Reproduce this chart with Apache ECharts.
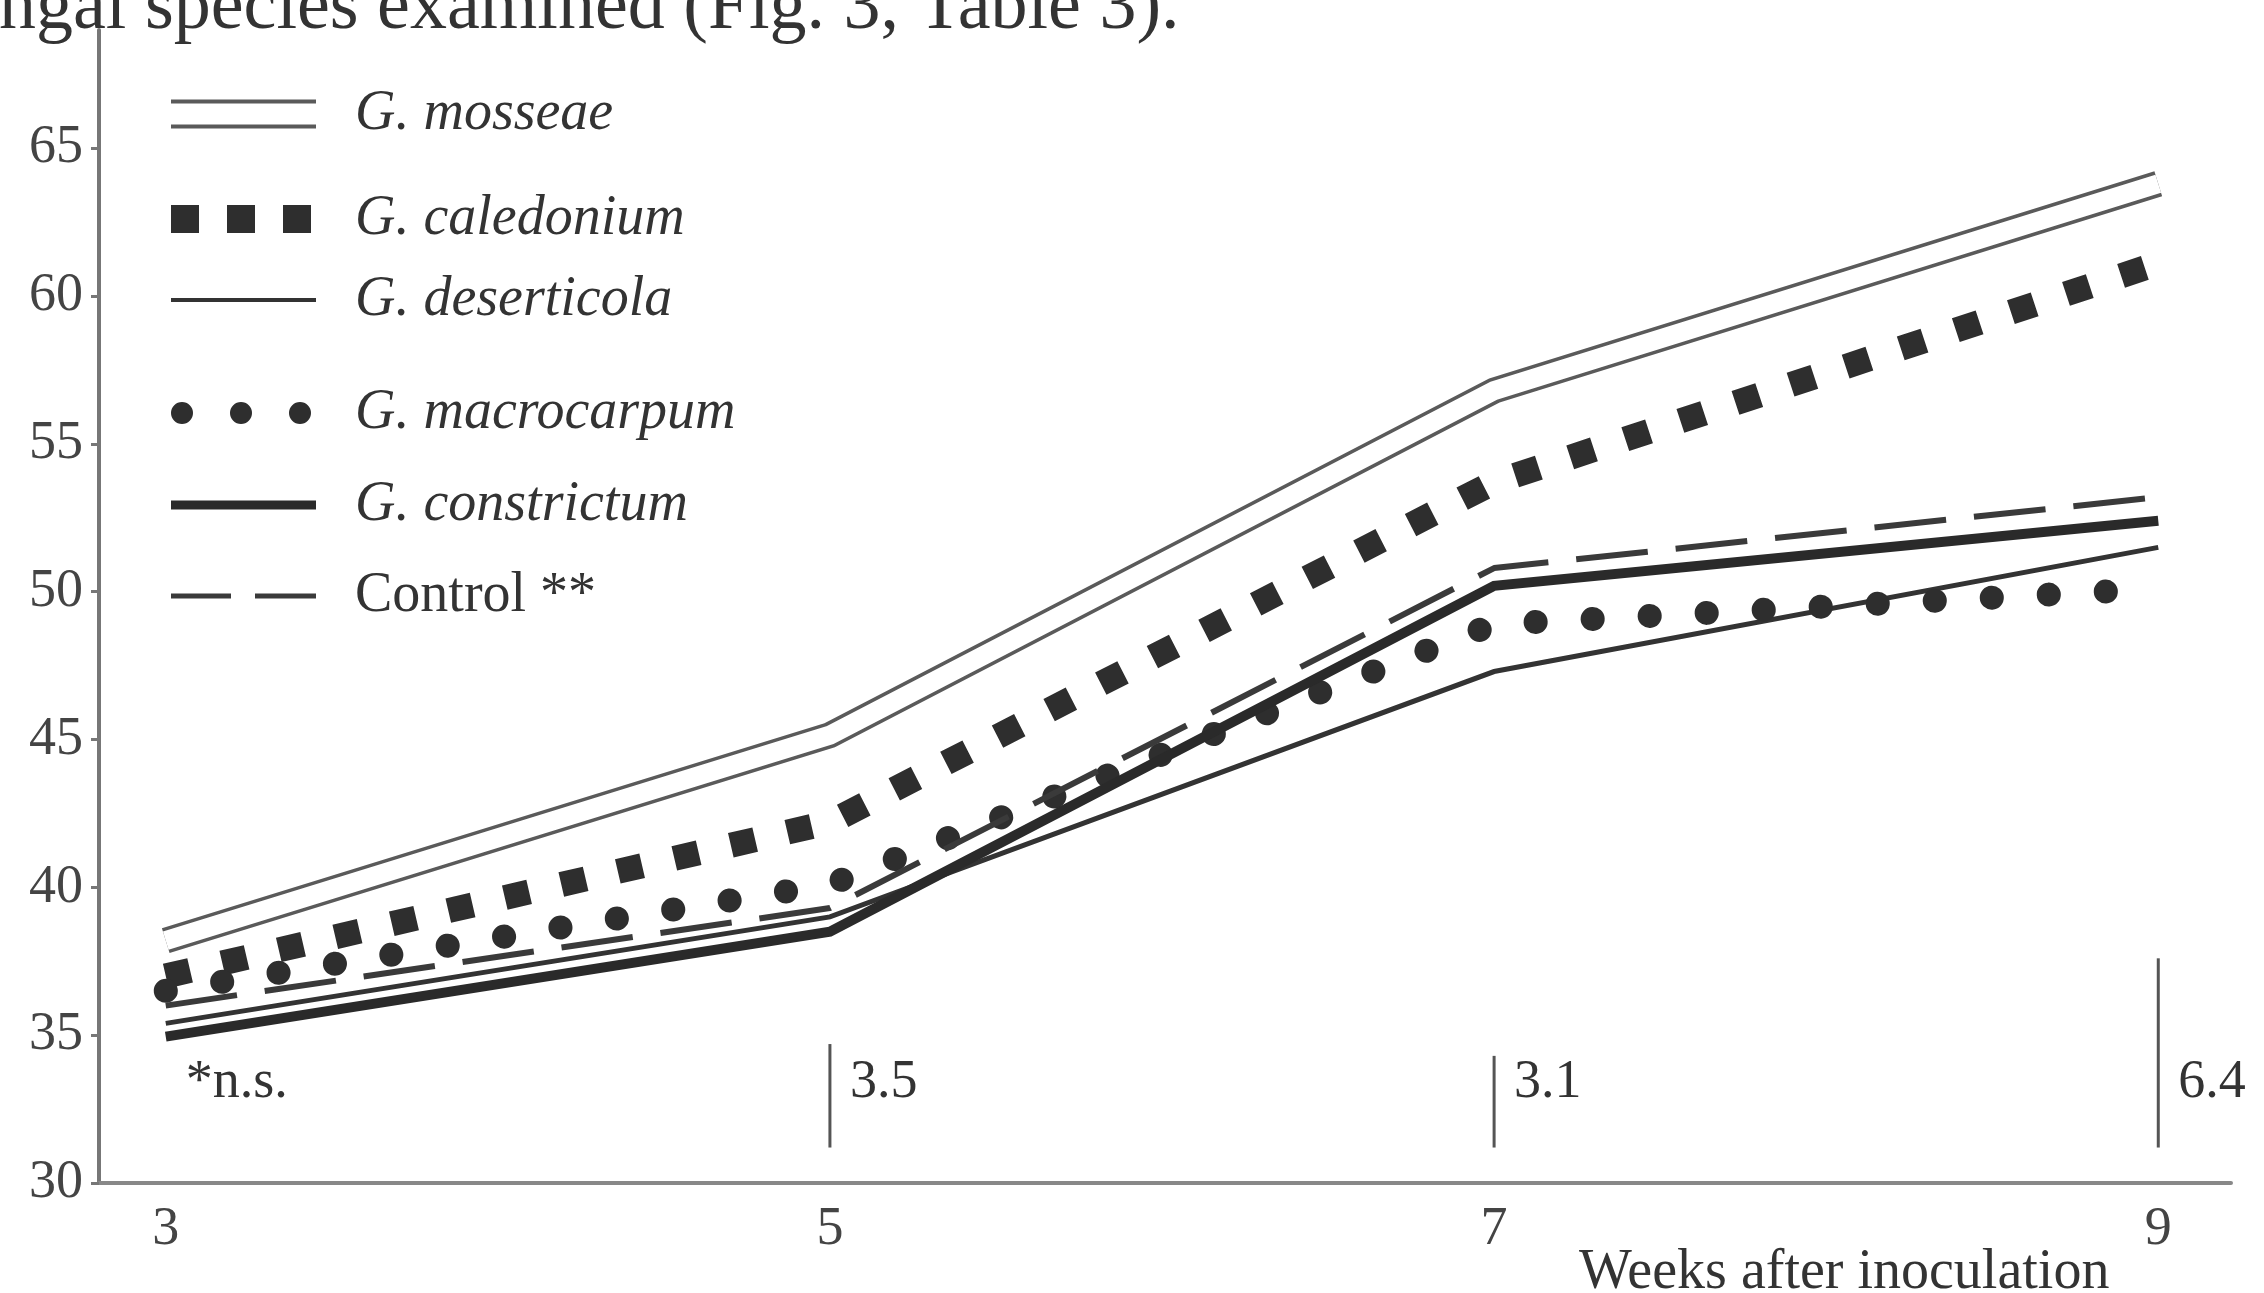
<!DOCTYPE html>
<html>
<head>
<meta charset="utf-8">
<script src="https://cdn.jsdelivr.net/npm/echarts@6/dist/echarts.min.js"></script>
<style>
html,body{margin:0;padding:0;background:#ffffff;}
#c{width:2264px;height:1293px;}
</style>
</head>
<body>
<div id="c"></div>
<script>
// ---- data ----
const weeks = [3, 5, 7, 9];
const mosseae = [38.2, 45.15, 56.8, 63.8];
const caledonium = [37.0, 42.2, 53.7, 61.1];
const deserticola = [35.4, 39.0, 47.3, 51.5];
const macrocarpum = [36.5, 40.1, 48.9, 50.1];
const constrictum = [34.95, 38.5, 50.2, 52.4];
const control = [36.0, 39.3, 50.8, 53.2];
const yTicks = [30, 35, 40, 45, 50, 55, 60, 65];
const xTicks = [3, 5, 7, 9];
const lsdWeeks = [3, 5, 7, 9];
const lsdValues = [0, 3.5, 3.1, 6.4];
const lsdLabels = ['*n.s.', '3.5', '3.1', '6.4'];
const legendNames = ['G. mosseae', 'G. caledonium', 'G. deserticola', 'G. macrocarpum', 'G. constrictum', 'Control **'];
const xAxisName = 'Weeks after inoculation';
const topText = 'ngal species examined (Fig. 3, Table 3).';

// ---- layout / style ----
const lsdBase = 31.2;
const lsdLabelY = 33.4;
const SERIF = '"Liberation Serif", "DejaVu Serif", serif';
const pairs = arr => weeks.map((w, i) => [w, arr[i]]);

const legendStyle = [
  {icon: 'path://M0,0H145V4H0Z M0,25H145V29H0Z', w: 145, h: 29, cy: 110, italic: true},
  {icon: 'path://M0,0H28V28H0Z M56,0H84V28H56Z M112,0H140V28H112Z', w: 140, h: 28, cy: 215, italic: true},
  {icon: 'path://M0,0H145V4H0Z', w: 145, h: 4, cy: 296, italic: true},
  {icon: 'path://M0,11A11,11 0 1,0 22,11A11,11 0 1,0 0,11Z M59,11A11,11 0 1,0 81,11A11,11 0 1,0 59,11Z M118,11A11,11 0 1,0 140,11A11,11 0 1,0 118,11Z', w: 140, h: 22, cy: 409, italic: true},
  {icon: 'path://M0,0H145V9H0Z', w: 145, h: 9, cy: 501, italic: true},
  {icon: 'path://M0,0H60V5H0Z M84,0H145V5H84Z', w: 145, h: 5, cy: 592, italic: false}
];

const legends = legendNames.map((name, i) => {
  const s = legendStyle[i];
  return {
    show: true,
    orient: 'vertical',
    left: 166,
    top: s.cy - 29,
    selectedMode: false,
    itemWidth: s.w,
    itemHeight: s.h,
    itemStyle: {borderWidth: 0},
    data: [{name: name, icon: s.icon}],
    textStyle: {
      fontFamily: SERIF,
      fontSize: 56,
      color: '#333',
      fontStyle: s.italic ? 'italic' : 'normal',
      padding: [0, 0, 0, 184 - s.w - 5]
    }
  };
});

const chart = echarts.init(document.getElementById('c'), null, {renderer: 'canvas'});
chart.setOption({
  animation: false,
  backgroundColor: '#ffffff',
  title: [
    {text: topText, left: -6, top: -33, textStyle: {fontFamily: SERIF, fontSize: 74, fontWeight: 'normal', color: '#333'}},
    {text: xAxisName, left: 1574, top: 1240, textStyle: {fontFamily: SERIF, fontSize: 56, fontWeight: 'normal', color: '#333'}}
  ],
  legend: legends,
  grid: {left: 99, right: 33, top: 30, bottom: 110, containLabel: false},
  xAxis: {
    type: 'value',
    min: 2.799,
    max: 9.219,
    axisLine: {show: true, onZero: false, lineStyle: {color: '#888', width: 4}},
    axisTick: {show: false},
    axisLabel: {customValues: xTicks, margin: 20, fontFamily: SERIF, fontSize: 54, color: '#444'},
    splitLine: {show: false}
  },
  yAxis: {
    type: 'value',
    min: 30,
    max: 69,
    axisLine: {show: true, onZero: false, lineStyle: {color: '#777', width: 4}},
    axisTick: {show: true, length: 8, customValues: yTicks, lineStyle: {color: '#777', width: 3}},
    axisLabel: {customValues: yTicks, margin: 16, fontFamily: SERIF, fontSize: 54, color: '#444'},
    splitLine: {show: false}
  },
  series: [
    {name: legendNames[0], type: 'line', data: pairs(mosseae), symbol: 'none', color: '#5a5a5a',
     lineStyle: {width: 26, color: '#5a5a5a', join: 'miter', cap: 'butt'}},
    {name: 'mosseae-gap', type: 'line', data: pairs(mosseae), symbol: 'none', color: '#ffffff', silent: true,
     lineStyle: {width: 19, color: '#ffffff', join: 'miter', cap: 'butt'}},
    {name: legendNames[1], type: 'line', data: pairs(caledonium), symbol: 'none', color: '#2e2e2e',
     lineStyle: {width: 25, color: '#2e2e2e', type: [25, 33], cap: 'butt', join: 'miter'}},
    {name: legendNames[2], type: 'line', data: pairs(deserticola), symbol: 'none', color: '#333',
     lineStyle: {width: 5, color: '#333', join: 'miter'}},
    {name: legendNames[3], type: 'line', data: pairs(macrocarpum), symbol: 'none', color: '#2e2e2e',
     lineStyle: {width: 24, color: '#2e2e2e', type: [0.1, 57], cap: 'round'}},
    {name: legendNames[4], type: 'line', data: pairs(constrictum), symbol: 'none', color: '#2a2a2a',
     lineStyle: {width: 10, color: '#2a2a2a', join: 'miter'}},
    {name: legendNames[5], type: 'line', data: pairs(control), symbol: 'none', color: '#3a3a3a',
     lineStyle: {width: 6, color: '#3a3a3a', type: [72, 28], cap: 'butt'}},
    {
      name: 'lsd', type: 'custom', silent: true, z: 5,
      data: lsdWeeks.map((w, i) => [w, lsdValues[i]]),
      renderItem: function (params, api) {
        const w = api.value(0), v = api.value(1);
        const children = [];
        if (v > 0) {
          const p0 = api.coord([w, lsdBase]);
          const p1 = api.coord([w, lsdBase + v]);
          children.push({type: 'line', shape: {x1: p0[0], y1: p0[1], x2: p1[0], y2: p1[1]},
            style: {stroke: '#555', lineWidth: 3}});
        }
        const pl = api.coord([w, lsdLabelY]);
        children.push({type: 'text', x: pl[0] + 20, y: pl[1],
          style: {text: lsdLabels[params.dataIndex], fill: '#333', font: '54px ' + SERIF,
            verticalAlign: 'middle', align: 'left'}});
        return {type: 'group', children: children};
      }
    }
  ]
});
</script>
</body>
</html>
